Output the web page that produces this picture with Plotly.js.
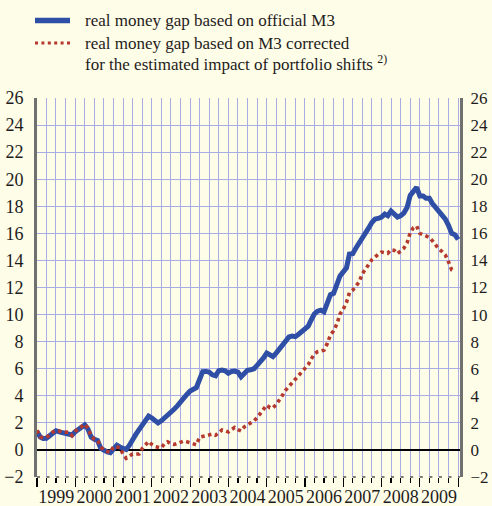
<!DOCTYPE html>
<html>
<head>
<meta charset="utf-8">
<script src="https://cdn.plot.ly/plotly-3.0.1.min.js"></script>
<style>
html,body{margin:0;padding:0;background:#FEFDE8;}
#chart{width:492px;height:506px;}
</style>
</head>
<body>
<div id="chart"></div>
<script>
// Monthly observations, Dec 1998 - Dec 2009 (plotted at month end)
const firstMonth = "1998-12";
const officialM3Gap = [
  1.35,0.95,0.85,0.86,1.05,1.3,1.42,1.33,1.28,1.22,1.2,1.1,
  1.35,1.55,1.7,1.85,1.55,0.95,0.78,0.7,0.1,-0.05,-0.15,-0.2,
  0.1,0.35,0.22,0.15,0.03,0.35,0.8,1.15,1.5,1.85,2.3,2.5,
  2.35,2.2,2.0,2.15,2.35,2.55,2.68,3.0,3.25,3.55,3.92,4.1,
  4.35,4.5,4.6,5.2,5.78,5.8,5.75,5.55,5.48,5.85,5.9,5.85,
  5.66,5.8,5.83,5.75,5.4,5.65,5.88,5.92,6.0,6.25,6.5,6.8,
  7.15,7.05,6.9,7.15,7.45,7.8,8.15,8.35,8.42,8.37,8.55,8.74,
  8.95,9.15,9.6,10.05,10.25,10.33,10.2,10.9,11.47,11.57,12.2,12.85,
  13.15,13.45,14.47,14.5,14.9,15.25,15.65,16.05,16.4,16.8,17.05,17.1,
  17.2,17.42,17.3,17.65,17.45,17.2,17.3,17.5,17.9,18.8,19.1,19.4,
  18.76,18.76,18.6,18.6,18.2,17.9,17.7,17.4,17.05,16.6,16.0,15.9,
  15.55
];
const correctedM3Gap = [
  1.45,0.95,0.9,0.93,1.1,1.33,1.42,1.4,1.3,1.3,1.32,1.06,
  1.38,1.55,1.72,1.9,1.62,1.0,0.8,0.7,0.22,-0.05,-0.12,-0.18,
  0.25,0.22,0.18,-0.3,-0.62,-0.45,-0.3,-0.3,-0.3,0.1,0.4,0.63,
  0.4,0.25,0.2,0.15,0.45,0.6,0.45,0.4,0.48,0.55,0.66,0.6,
  0.52,0.45,0.38,0.94,1.0,1.08,1.12,1.17,1.08,1.25,1.48,1.42,
  1.33,1.5,1.66,1.5,1.4,1.7,1.85,1.95,2.15,2.38,2.7,3.1,
  3.32,3.12,3.1,3.35,3.65,4.05,4.42,4.7,4.95,5.2,5.5,5.73,
  6.0,6.3,6.7,7.1,7.25,7.32,7.37,7.85,8.5,8.8,9.3,10.04,
  10.4,10.9,11.62,11.8,12.05,12.4,13.0,13.3,13.7,14.05,14.3,14.45,
  14.62,14.6,14.53,14.8,14.75,14.5,14.7,14.9,15.3,16.05,16.42,16.54,
  16.0,15.9,15.8,15.7,15.45,15.1,14.85,14.65,14.4,13.9,13.3,13.2
];
const legendLines = [
  "real money gap based on official M3",
  "real money gap based on M3 corrected",
  "for the estimated impact of portfolio shifts <sup>2)</sup>"
];

function monthSeq(start, n) {
  let [y, m] = start.split("-").map(Number);
  const out = [];
  for (let i = 0; i < n; i++) {
    out.push(y + "-" + String(m).padStart(2, "0"));
    m++; if (m > 12) { m = 1; y++; }
  }
  return out;
}
const months = monthSeq(firstMonth, officialM3Gap.length);

// layout geometry (pixels)
const W = 492, H = 506, L = 37, R = 460, T = 98, B = 477;
const pw = R - L, ph = B - T;
const px = v => (v - L) / pw;
const py = v => (B - v) / ph;

const bg = "#FEFDE8";
const grid = "#A9ADE6";
const blue = "#2F4FA6";
const red = "#B5392E";
const txt = "#1e1c1c";
const serif = '"Liberation Serif", "Times New Roman", "DejaVu Serif", serif';

const traces = [
  {
    x: months, y: officialM3Gap, type: "scatter", mode: "lines",
    xperiod: "M1", xperiodalignment: "end",
    line: {color: blue, width: 5}, hoverinfo: "skip"
  },
  {
    x: months.slice(0, correctedM3Gap.length), y: correctedM3Gap, type: "scatter", mode: "lines",
    xperiod: "M1", xperiodalignment: "end", yaxis: "y2",
    line: {color: red, width: 3.6, dash: "3.5px,3.4px"}, hoverinfo: "skip"
  }
];

const yCommon = {
  range: [-2, 26], dtick: 2, tick0: 0,
  showline: true, linecolor: "#707070", linewidth: 3,
  ticks: "", fixedrange: true
};

const legendY = [20.5, 43, 63];

const layout = {
  width: W, height: H,
  margin: {l: L, r: W - R, t: T, b: H - B, pad: 0},
  paper_bgcolor: bg, plot_bgcolor: bg,
  font: {family: serif},
  showlegend: false,
  xaxis: {
    type: "date",
    range: ["1999-01-01", "2010-01-19"],
    tick0: "1999-01-01", dtick: "M12",
    ticklabelmode: "period",
    tickformat: "%Y",
    ticks: "outside", ticklen: 9, tickwidth: 1.2, tickcolor: "#000",
    showgrid: true, gridcolor: grid, gridwidth: 1,
    minor: {dtick: "M3", tick0: "1999-01-01", ticks: "outside", ticklen: 5, tickwidth: 1.2, tickcolor: "#000",
            showgrid: true, gridcolor: grid, gridwidth: 1},
    tickfont: {family: serif, size: 18, color: txt},
    ticklabelstandoff: -6,
    showline: false, zeroline: false, fixedrange: true
  },
  yaxis: Object.assign({}, yCommon, {
    side: "left", showgrid: true, gridcolor: grid, gridwidth: 1,
    zeroline: true, zerolinecolor: "#000", zerolinewidth: 2,
    tickfont: {family: serif, size: 18, color: txt},
    ticklabelstandoff: 7
  }),
  yaxis2: Object.assign({}, yCommon, {
    side: "right", overlaying: "y", showgrid: false, zeroline: false,
    tickfont: {family: serif, size: 17, color: txt},
    ticklabelstandoff: 4
  }),
  shapes: [
    {type: "line", xref: "paper", yref: "paper", x0: px(35), x1: px(70), y0: py(legendY[0]), y1: py(legendY[0]),
     line: {color: blue, width: 5.5}},
    {type: "line", xref: "paper", yref: "paper", x0: px(35), x1: px(70), y0: py(legendY[1]), y1: py(legendY[1]),
     line: {color: red, width: 3, dash: "3px,3.4px"}},
    // small horizontal feet of the bottom tick marks
    {type: "line", xref: "paper", yref: "paper", x0: 0, x1: 1, y0: 0, y1: 0,
     line: {color: "#000", width: 1.2, dash: "3px,6.57px"}}
  ],
  annotations: legendLines.map((t, i) => ({
    xref: "paper", yref: "paper", x: px(83), y: py(legendY[i]),
    xanchor: "left", yanchor: "middle",
    text: t, showarrow: false, align: "left",
    font: {family: serif, size: 17, color: txt}
  }))
};

Plotly.newPlot("chart", traces, layout, {displayModeBar: false, staticPlot: true});
</script>
</body>
</html>
